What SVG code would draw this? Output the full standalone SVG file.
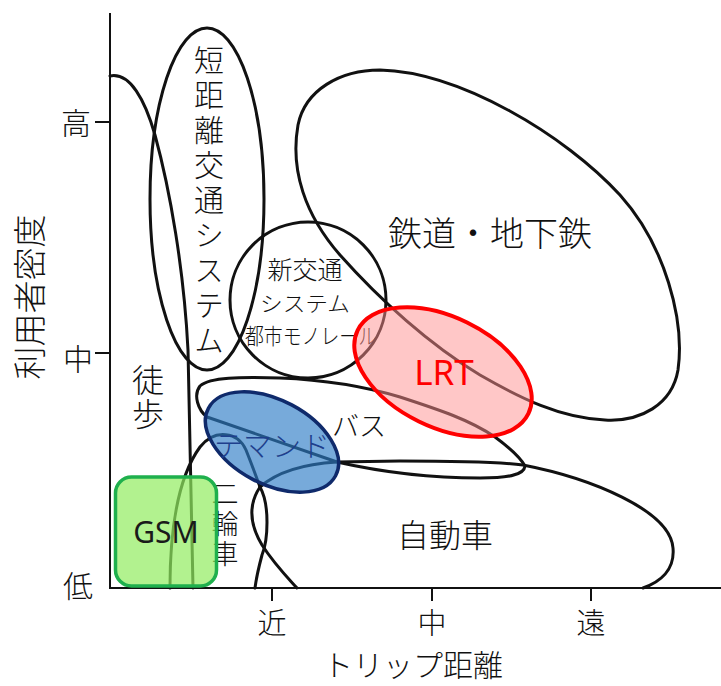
<svg xmlns="http://www.w3.org/2000/svg" width="721" height="686" viewBox="0 0 721 686">
<style>
.ln{fill:none;stroke:#111;stroke-width:3;stroke-linecap:round;stroke-linejoin:round}
.ax{fill:none;stroke:#111;stroke-width:2}
.jp{font-family:"Noto Sans CJK JP","Noto Sans",sans-serif;font-weight:300;fill:#111;text-anchor:middle;dominant-baseline:central}
.vt{font-family:"Noto Sans CJK JP","Noto Sans",sans-serif;font-weight:300;fill:#111;text-anchor:middle;writing-mode:vertical-rl}
.lat{font-family:"Noto Sans","Noto Sans CJK JP",sans-serif;text-anchor:middle;dominant-baseline:central}
</style>
<rect width="721" height="686" fill="#fff"/>
<g id="axes">
<path class="ax" d="M110,13 V588 H721"/>
<path class="ax" d="M95,122 H110 M95,353 H110 M272,588 V601 M432,588 V601 M591,588 V601"/>
<text class="jp" x="76" y="121" font-size="30">高</text>
<text class="jp" x="78" y="357" font-size="30">中</text>
<text class="jp" x="78" y="584" font-size="30">低</text>
<text class="jp" x="272" y="621" font-size="29">近</text>
<text class="jp" x="432" y="621" font-size="29">中</text>
<text class="jp" x="591" y="621" font-size="29">遠</text>
<text class="jp" x="413" y="663" font-size="30">トリップ距離</text>
<text class="jp" font-size="33" transform="translate(28,297) rotate(-90)">利用者密度</text>
</g>
<g id="connectors"></g>
<g id="walk">
<path class="ln" d="M110,76 C130,72 145,100 155,135 C170,190 184,270 188,350 L193,588"/>
<text class="vt" x="148" y="398" font-size="32" letter-spacing="2">徒歩</text>
</g>
<g id="short-distance">
<ellipse class="ln" cx="207" cy="199" rx="57" ry="171"/>
<text class="vt" x="209" y="202" font-size="30" letter-spacing="5">短距離交通システム</text>
</g>
<g id="new-transit">
<circle class="ln" cx="308" cy="300" r="78"/>
<text class="jp" x="305" y="268" font-size="25">新交通</text>
<text class="jp" x="305" y="302" font-size="21" textLength="90" lengthAdjust="spacingAndGlyphs">システム</text>
<text class="jp" x="311" y="334" font-size="22" textLength="132" lengthAdjust="spacingAndGlyphs">都市モノレール</text>
</g>
<g id="rail">
<path class="ln" d="M380,70 C460,72 565,135 620,195 C665,245 685,320 678,370 C672,405 640,422 605,420 C560,418 520,398 480,375 C430,345 380,300 340,255 C305,215 290,170 298,125 C305,90 340,70 380,70 Z"/>
<text class="jp" x="490" y="231" font-size="34">鉄道・地下鉄</text>
</g>
<g id="bus">
<path class="ln" d="M337,462 L207,417 C198,410 193,395 200,386 C210,377 240,377 280,378 C330,380 370,388 400,397 C440,410 470,420 495,437 C510,448 520,457 525,466 C524,476 505,478 480,478 C440,478 390,474 337,462 Z"/>
<text class="jp" x="359" y="424" font-size="27">バス</text>
</g>
<g id="car">
<path class="ln" d="M260,487 Q285,465 337,462 L400,461 C460,461 500,462 523,465 C590,478 670,510 673,548 C675,570 660,582 643,588"/>
<text class="jp" x="445" y="533" font-size="32">自動車</text>
</g>
<g id="two-wheeler">
<path class="ln" d="M170,588 C170,535 176,480 200,447 C215,428 238,432 246,450 C252,465 256,476 260,487"/>
<path class="ln" d="M260,487 C248,505 250,525 262,545 C275,565 288,578 297,588"/>
<path class="ln" d="M260,487 C270,505 268,540 262,555 C258,570 256,580 255,588"/>
<text class="vt" x="225" y="525" font-size="27" letter-spacing="3">二輪車</text>
</g>
<g id="lrt">
<ellipse cx="443" cy="372" rx="95" ry="55" transform="rotate(26 443 372)" fill="#ff9090" fill-opacity="0.5" stroke="#ff0000" stroke-width="4"/>
<text class="lat" x="444" y="371" font-size="35" fill="#ff0000">LRT</text>
</g>
<g id="demand">
<ellipse cx="272" cy="442" rx="72" ry="42" transform="rotate(28 272 442)" fill="#2e7cc6" fill-opacity="0.65" stroke="#0f2a6b" stroke-width="3.5"/>
<text class="jp" x="272" y="444" font-size="29" style="fill:#1e3f8c">テマンド</text>
</g>
<g id="gsm">
<rect x="115.5" y="477" width="101" height="109" rx="16" fill="#92ed5f" fill-opacity="0.7" stroke="#1fb04d" stroke-width="3.5"/>
<text class="lat" x="166" y="531" font-size="30" fill="#1a1a1a">GSM</text>
</g>
</svg>
